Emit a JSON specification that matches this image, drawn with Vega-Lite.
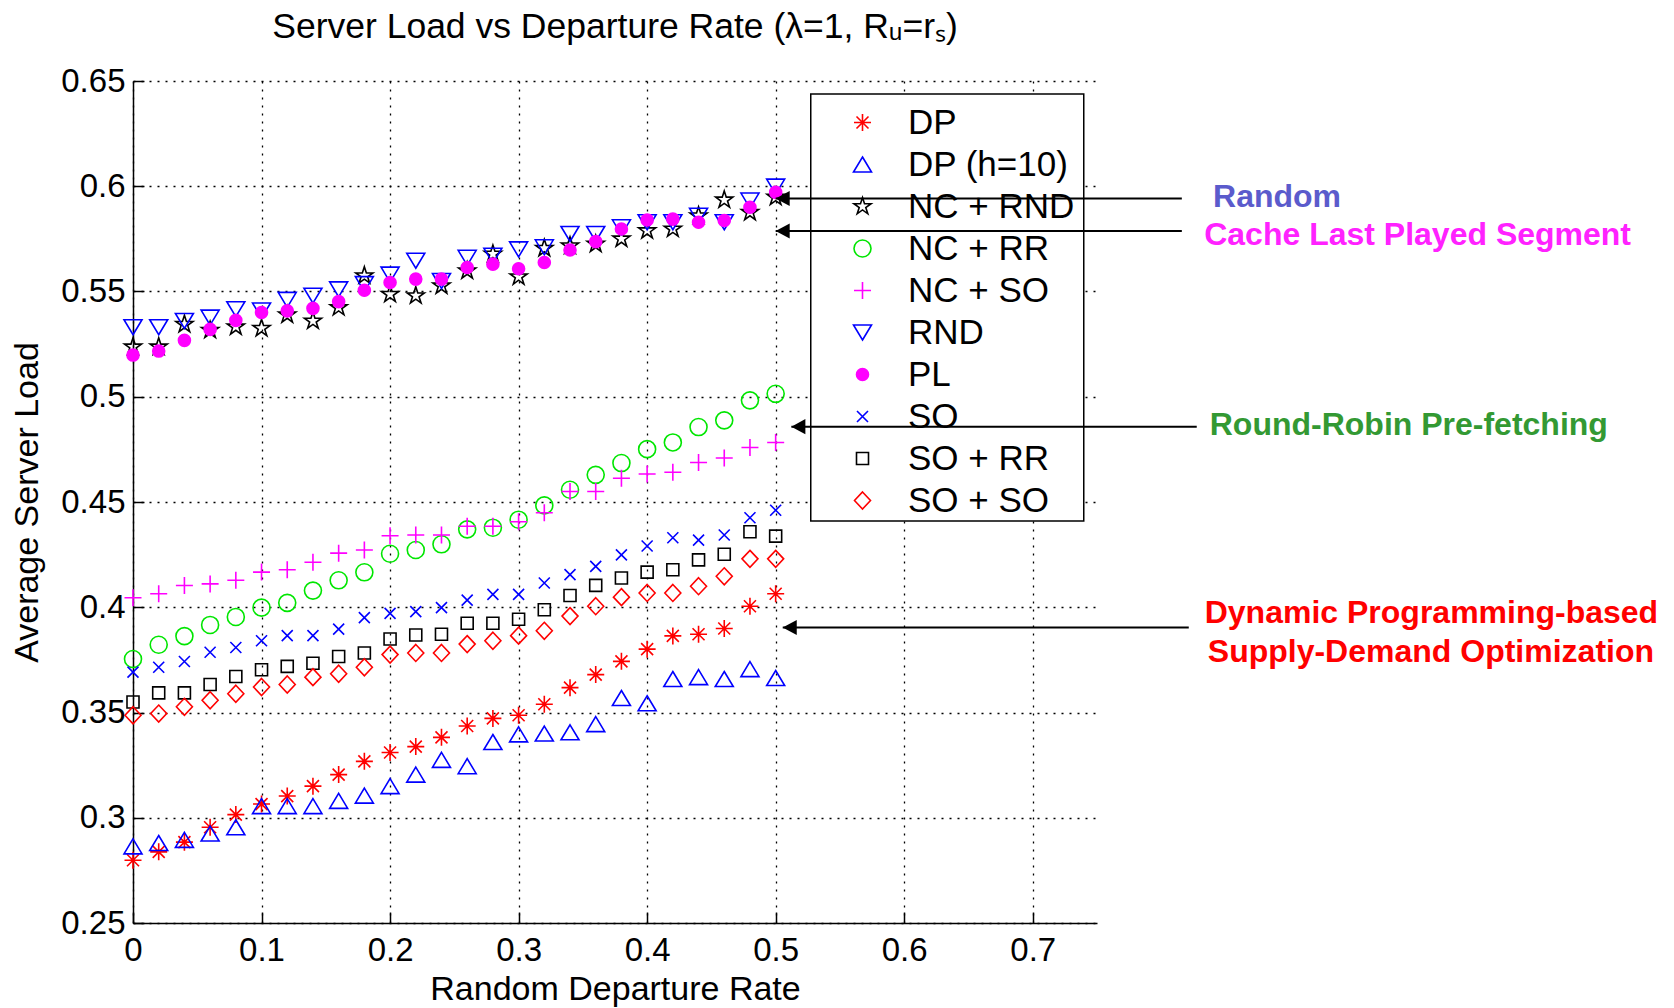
{
  "$schema": "https://vega.github.io/schema/vega-lite/v6.json",
  "width": 964,
  "height": 842,
  "autosize": {"type": "none"},
  "padding": {"left": 133, "top": 81, "right": 577, "bottom": 85},
  "background": "white",
  "title": {
    "text": "Server Load vs Departure Rate (λ=1, Rᵤ=rₛ)",
    "font": "Liberation Sans",
    "fontSize": 35.5,
    "fontWeight": "normal",
    "color": "black",
    "anchor": "middle",
    "frame": "group",
    "offset": 20
  },
  "datasets": {
    "series": [
      {"s":"DP","x":0,"y":0.2798},{"s":"DP","x":0.02,"y":0.2838},{"s":"DP","x":0.04,"y":0.2884},{"s":"DP","x":0.06,"y":0.2955},{"s":"DP","x":0.08,"y":0.3015},{"s":"DP","x":0.1,"y":0.3065},{"s":"DP","x":0.12,"y":0.3103},{"s":"DP","x":0.14,"y":0.315},{"s":"DP","x":0.16,"y":0.3205},{"s":"DP","x":0.18,"y":0.3268},{"s":"DP","x":0.2,"y":0.331},{"s":"DP","x":0.22,"y":0.3338},{"s":"DP","x":0.24,"y":0.3382},{"s":"DP","x":0.26,"y":0.3436},{"s":"DP","x":0.28,"y":0.3472},{"s":"DP","x":0.3,"y":0.3487},{"s":"DP","x":0.32,"y":0.3539},{"s":"DP","x":0.34,"y":0.3618},{"s":"DP","x":0.36,"y":0.368},{"s":"DP","x":0.38,"y":0.3743},{"s":"DP","x":0.4,"y":0.3801},{"s":"DP","x":0.42,"y":0.3864},{"s":"DP","x":0.44,"y":0.3872},{"s":"DP","x":0.46,"y":0.3899},{"s":"DP","x":0.48,"y":0.4005},{"s":"DP","x":0.5,"y":0.4064},
      {"s":"DP (h=10)","x":0,"y":0.2864},{"s":"DP (h=10)","x":0.02,"y":0.288},{"s":"DP (h=10)","x":0.04,"y":0.2895},{"s":"DP (h=10)","x":0.06,"y":0.2925},{"s":"DP (h=10)","x":0.08,"y":0.2955},{"s":"DP (h=10)","x":0.1,"y":0.3055},{"s":"DP (h=10)","x":0.12,"y":0.3055},{"s":"DP (h=10)","x":0.14,"y":0.3055},{"s":"DP (h=10)","x":0.16,"y":0.308},{"s":"DP (h=10)","x":0.18,"y":0.3105},{"s":"DP (h=10)","x":0.2,"y":0.315},{"s":"DP (h=10)","x":0.22,"y":0.3205},{"s":"DP (h=10)","x":0.24,"y":0.3275},{"s":"DP (h=10)","x":0.26,"y":0.3245},{"s":"DP (h=10)","x":0.28,"y":0.336},{"s":"DP (h=10)","x":0.3,"y":0.3396},{"s":"DP (h=10)","x":0.32,"y":0.34},{"s":"DP (h=10)","x":0.34,"y":0.3406},{"s":"DP (h=10)","x":0.36,"y":0.3445},{"s":"DP (h=10)","x":0.38,"y":0.3569},{"s":"DP (h=10)","x":0.4,"y":0.3544},{"s":"DP (h=10)","x":0.42,"y":0.3659},{"s":"DP (h=10)","x":0.44,"y":0.3668},{"s":"DP (h=10)","x":0.46,"y":0.3659},{"s":"DP (h=10)","x":0.48,"y":0.3706},{"s":"DP (h=10)","x":0.5,"y":0.3664},
      {"s":"NC + RND","x":0,"y":0.5237},{"s":"NC + RND","x":0.02,"y":0.5237},{"s":"NC + RND","x":0.04,"y":0.5344},{"s":"NC + RND","x":0.06,"y":0.5316},{"s":"NC + RND","x":0.08,"y":0.5332},{"s":"NC + RND","x":0.1,"y":0.5325},{"s":"NC + RND","x":0.12,"y":0.5389},{"s":"NC + RND","x":0.14,"y":0.536},{"s":"NC + RND","x":0.16,"y":0.5424},{"s":"NC + RND","x":0.18,"y":0.5575},{"s":"NC + RND","x":0.2,"y":0.5487},{"s":"NC + RND","x":0.22,"y":0.548},{"s":"NC + RND","x":0.24,"y":0.5527},{"s":"NC + RND","x":0.26,"y":0.5598},{"s":"NC + RND","x":0.28,"y":0.5678},{"s":"NC + RND","x":0.3,"y":0.557},{"s":"NC + RND","x":0.32,"y":0.5705},{"s":"NC + RND","x":0.34,"y":0.5717},{"s":"NC + RND","x":0.36,"y":0.5725},{"s":"NC + RND","x":0.38,"y":0.575},{"s":"NC + RND","x":0.4,"y":0.5789},{"s":"NC + RND","x":0.42,"y":0.5797},{"s":"NC + RND","x":0.44,"y":0.586},{"s":"NC + RND","x":0.46,"y":0.5935},{"s":"NC + RND","x":0.48,"y":0.5876},{"s":"NC + RND","x":0.5,"y":0.5948},
      {"s":"NC + RR","x":0,"y":0.3754},{"s":"NC + RR","x":0.02,"y":0.3822},{"s":"NC + RR","x":0.04,"y":0.3863},{"s":"NC + RR","x":0.06,"y":0.3916},{"s":"NC + RR","x":0.08,"y":0.3954},{"s":"NC + RR","x":0.1,"y":0.3998},{"s":"NC + RR","x":0.12,"y":0.4021},{"s":"NC + RR","x":0.14,"y":0.4079},{"s":"NC + RR","x":0.16,"y":0.4128},{"s":"NC + RR","x":0.18,"y":0.4166},{"s":"NC + RR","x":0.2,"y":0.4254},{"s":"NC + RR","x":0.22,"y":0.4272},{"s":"NC + RR","x":0.24,"y":0.4299},{"s":"NC + RR","x":0.26,"y":0.437},{"s":"NC + RR","x":0.28,"y":0.4378},{"s":"NC + RR","x":0.3,"y":0.4416},{"s":"NC + RR","x":0.32,"y":0.4484},{"s":"NC + RR","x":0.34,"y":0.4558},{"s":"NC + RR","x":0.36,"y":0.4629},{"s":"NC + RR","x":0.38,"y":0.4685},{"s":"NC + RR","x":0.4,"y":0.4751},{"s":"NC + RR","x":0.42,"y":0.4783},{"s":"NC + RR","x":0.44,"y":0.4856},{"s":"NC + RR","x":0.46,"y":0.4888},{"s":"NC + RR","x":0.48,"y":0.4983},{"s":"NC + RR","x":0.5,"y":0.5014},
      {"s":"NC + SO","x":0,"y":0.4045},{"s":"NC + SO","x":0.02,"y":0.4064},{"s":"NC + SO","x":0.04,"y":0.4103},{"s":"NC + SO","x":0.06,"y":0.4111},{"s":"NC + SO","x":0.08,"y":0.4128},{"s":"NC + SO","x":0.1,"y":0.4167},{"s":"NC + SO","x":0.12,"y":0.4178},{"s":"NC + SO","x":0.14,"y":0.4214},{"s":"NC + SO","x":0.16,"y":0.4257},{"s":"NC + SO","x":0.18,"y":0.4272},{"s":"NC + SO","x":0.2,"y":0.434},{"s":"NC + SO","x":0.22,"y":0.4343},{"s":"NC + SO","x":0.24,"y":0.4343},{"s":"NC + SO","x":0.26,"y":0.4385},{"s":"NC + SO","x":0.28,"y":0.4385},{"s":"NC + SO","x":0.3,"y":0.4406},{"s":"NC + SO","x":0.32,"y":0.4449},{"s":"NC + SO","x":0.34,"y":0.455},{"s":"NC + SO","x":0.36,"y":0.455},{"s":"NC + SO","x":0.38,"y":0.4613},{"s":"NC + SO","x":0.4,"y":0.4633},{"s":"NC + SO","x":0.42,"y":0.4641},{"s":"NC + SO","x":0.44,"y":0.4688},{"s":"NC + SO","x":0.46,"y":0.4709},{"s":"NC + SO","x":0.48,"y":0.4759},{"s":"NC + SO","x":0.5,"y":0.4783},
      {"s":"RND","x":0,"y":0.533},{"s":"RND","x":0.02,"y":0.533},{"s":"RND","x":0.04,"y":0.536},{"s":"RND","x":0.06,"y":0.5376},{"s":"RND","x":0.08,"y":0.5416},{"s":"RND","x":0.1,"y":0.541},{"s":"RND","x":0.12,"y":0.546},{"s":"RND","x":0.14,"y":0.548},{"s":"RND","x":0.16,"y":0.551},{"s":"RND","x":0.18,"y":0.5535},{"s":"RND","x":0.2,"y":0.558},{"s":"RND","x":0.22,"y":0.5646},{"s":"RND","x":0.24,"y":0.555},{"s":"RND","x":0.26,"y":0.566},{"s":"RND","x":0.28,"y":0.567},{"s":"RND","x":0.3,"y":0.57},{"s":"RND","x":0.32,"y":0.571},{"s":"RND","x":0.34,"y":0.5773},{"s":"RND","x":0.36,"y":0.5773},{"s":"RND","x":0.38,"y":0.5805},{"s":"RND","x":0.4,"y":0.5829},{"s":"RND","x":0.42,"y":0.5829},{"s":"RND","x":0.44,"y":0.586},{"s":"RND","x":0.46,"y":0.5829},{"s":"RND","x":0.48,"y":0.5932},{"s":"RND","x":0.5,"y":0.5998},
      {"s":"PL","x":0,"y":0.5198},{"s":"PL","x":0.02,"y":0.5217},{"s":"PL","x":0.04,"y":0.5268},{"s":"PL","x":0.06,"y":0.532},{"s":"PL","x":0.08,"y":0.5363},{"s":"PL","x":0.1,"y":0.54},{"s":"PL","x":0.12,"y":0.5408},{"s":"PL","x":0.14,"y":0.542},{"s":"PL","x":0.16,"y":0.5452},{"s":"PL","x":0.18,"y":0.5506},{"s":"PL","x":0.2,"y":0.5543},{"s":"PL","x":0.22,"y":0.5559},{"s":"PL","x":0.24,"y":0.5559},{"s":"PL","x":0.26,"y":0.5614},{"s":"PL","x":0.28,"y":0.563},{"s":"PL","x":0.3,"y":0.5608},{"s":"PL","x":0.32,"y":0.5638},{"s":"PL","x":0.34,"y":0.5697},{"s":"PL","x":0.36,"y":0.5737},{"s":"PL","x":0.38,"y":0.5797},{"s":"PL","x":0.4,"y":0.584},{"s":"PL","x":0.42,"y":0.5844},{"s":"PL","x":0.44,"y":0.5829},{"s":"PL","x":0.46,"y":0.5837},{"s":"PL","x":0.48,"y":0.59},{"s":"PL","x":0.5,"y":0.5971},
      {"s":"SO","x":0,"y":0.3692},{"s":"SO","x":0.02,"y":0.3715},{"s":"SO","x":0.04,"y":0.3742},{"s":"SO","x":0.06,"y":0.3786},{"s":"SO","x":0.08,"y":0.3809},{"s":"SO","x":0.1,"y":0.3841},{"s":"SO","x":0.12,"y":0.3865},{"s":"SO","x":0.14,"y":0.3865},{"s":"SO","x":0.16,"y":0.3896},{"s":"SO","x":0.18,"y":0.3951},{"s":"SO","x":0.2,"y":0.3971},{"s":"SO","x":0.22,"y":0.3979},{"s":"SO","x":0.24,"y":0.3998},{"s":"SO","x":0.26,"y":0.4034},{"s":"SO","x":0.28,"y":0.4061},{"s":"SO","x":0.3,"y":0.4061},{"s":"SO","x":0.32,"y":0.4115},{"s":"SO","x":0.34,"y":0.4155},{"s":"SO","x":0.36,"y":0.4194},{"s":"SO","x":0.38,"y":0.4249},{"s":"SO","x":0.4,"y":0.4291},{"s":"SO","x":0.42,"y":0.433},{"s":"SO","x":0.44,"y":0.4319},{"s":"SO","x":0.46,"y":0.4343},{"s":"SO","x":0.48,"y":0.4425},{"s":"SO","x":0.5,"y":0.4461},
      {"s":"SO + RR","x":0,"y":0.355},{"s":"SO + RR","x":0.02,"y":0.3593},{"s":"SO + RR","x":0.04,"y":0.3593},{"s":"SO + RR","x":0.06,"y":0.3633},{"s":"SO + RR","x":0.08,"y":0.3671},{"s":"SO + RR","x":0.1,"y":0.3703},{"s":"SO + RR","x":0.12,"y":0.3719},{"s":"SO + RR","x":0.14,"y":0.3734},{"s":"SO + RR","x":0.16,"y":0.3766},{"s":"SO + RR","x":0.18,"y":0.3783},{"s":"SO + RR","x":0.2,"y":0.3849},{"s":"SO + RR","x":0.22,"y":0.3868},{"s":"SO + RR","x":0.24,"y":0.3872},{"s":"SO + RR","x":0.26,"y":0.3924},{"s":"SO + RR","x":0.28,"y":0.3924},{"s":"SO + RR","x":0.3,"y":0.3943},{"s":"SO + RR","x":0.32,"y":0.3988},{"s":"SO + RR","x":0.34,"y":0.4056},{"s":"SO + RR","x":0.36,"y":0.4104},{"s":"SO + RR","x":0.38,"y":0.4139},{"s":"SO + RR","x":0.4,"y":0.4167},{"s":"SO + RR","x":0.42,"y":0.4178},{"s":"SO + RR","x":0.44,"y":0.4225},{"s":"SO + RR","x":0.46,"y":0.4252},{"s":"SO + RR","x":0.48,"y":0.4359},{"s":"SO + RR","x":0.5,"y":0.4338},
      {"s":"SO + SO","x":0,"y":0.3487},{"s":"SO + SO","x":0.02,"y":0.3495},{"s":"SO + SO","x":0.04,"y":0.3527},{"s":"SO + SO","x":0.06,"y":0.3558},{"s":"SO + SO","x":0.08,"y":0.3589},{"s":"SO + SO","x":0.1,"y":0.3621},{"s":"SO + SO","x":0.12,"y":0.3633},{"s":"SO + SO","x":0.14,"y":0.3668},{"s":"SO + SO","x":0.16,"y":0.3684},{"s":"SO + SO","x":0.18,"y":0.3715},{"s":"SO + SO","x":0.2,"y":0.3775},{"s":"SO + SO","x":0.22,"y":0.3783},{"s":"SO + SO","x":0.24,"y":0.3783},{"s":"SO + SO","x":0.26,"y":0.3825},{"s":"SO + SO","x":0.28,"y":0.3841},{"s":"SO + SO","x":0.3,"y":0.3865},{"s":"SO + SO","x":0.32,"y":0.3888},{"s":"SO + SO","x":0.34,"y":0.3958},{"s":"SO + SO","x":0.36,"y":0.4005},{"s":"SO + SO","x":0.38,"y":0.4048},{"s":"SO + SO","x":0.4,"y":0.4068},{"s":"SO + SO","x":0.42,"y":0.4068},{"s":"SO + SO","x":0.44,"y":0.41},{"s":"SO + SO","x":0.46,"y":0.4147},{"s":"SO + SO","x":0.48,"y":0.423},{"s":"SO + SO","x":0.5,"y":0.423}
    ],
    "arrows": [
      {"name":"Random","tip":0.5,"end":0.816,"y":0.5942},
      {"name":"Cache","tip":0.5,"end":0.816,"y":0.5787},
      {"name":"RR","tip":0.5122,"end":0.8276,"y":0.4858},
      {"name":"DP","tip":0.5055,"end":0.8214,"y":0.3904}
    ],
    "notes": [
      {"label":"Random","group":"Random","x":0.8403,"y":0.5949},
      {"label":"Cache Last Played Segment","group":"Cache","x":0.8334,"y":0.5768},
      {"label":"Round-Robin Pre-fetching","group":"RR","x":0.8377,"y":0.4866},
      {"label":"Dynamic Programming-based","group":"DP","x":0.8338,"y":0.3973},
      {"label":"Supply-Demand Optimization","group":"DP","x":0.8362,"y":0.3789}
    ]
  },
  "layer": [
    {
      "data": {"values": [{}]},
      "mark": {"type": "rect", "fill": "white", "stroke": "black", "strokeWidth": 1.5},
      "encoding": {
        "x": {"datum": 0.5273, "type": "quantitative", "scale": {"domain": [0, 0.75], "nice": false, "zero": false}},
        "x2": {"datum": 0.7397},
        "y": {"datum": 0.6438, "type": "quantitative", "scale": {"domain": [0.25, 0.65], "nice": false, "zero": false}},
        "y2": {"datum": 0.441}
      }
    },
    {
      "data": {"name": "series"},
      "mark": {"type": "point", "filled": false, "strokeWidth": 1.6, "size": 400, "opacity": 1},
      "encoding": {
        "x": {
          "field": "x", "type": "quantitative",
          "scale": {"domain": [0, 0.75], "nice": false, "zero": false},
          "axis": {
            "title": "Random Departure Rate",
            "values": [0, 0.1, 0.2, 0.3, 0.4, 0.5, 0.6, 0.7],
            "format": "~g",
            "labelPadding": 22,
            "titlePadding": 5
          }
        },
        "y": {
          "field": "y", "type": "quantitative",
          "scale": {"domain": [0.25, 0.65], "nice": false, "zero": false},
          "axis": {
            "title": "Average Server Load",
            "values": [0.25, 0.3, 0.35, 0.4, 0.45, 0.5, 0.55, 0.6, 0.65],
            "format": "~g",
            "labelPadding": 19,
            "titlePadding": 16
          }
        },
        "stroke": {
          "field": "s", "type": "nominal",
          "scale": {
            "domain": ["DP", "DP (h=10)", "NC + RND", "NC + RR", "NC + SO", "RND", "PL", "SO", "SO + RR", "SO + SO"],
            "range": ["#ff0000", "#0000ff", "#000000", "#00e600", "#ff00ff", "#0000ff", "#ff00ff", "#0000ff", "#000000", "#ff0000"]
          },
          "legend": {
            "title": null,
            "orient": "none",
            "legendX": 678,
            "legendY": 14,
            "padding": 10,
            "symbolOffset": 24,
            "labelOffset": 28,
            "rowPadding": 6,
            "labelFontSize": 35,
            "labelFont": "Liberation Sans",
            "labelColor": "black",
            "symbolSize": 400,
            "symbolStrokeWidth": 1.6,
            "strokeColor": null,
            "fillColor": null,
            "labelLimit": 400
          }
        },
        "fill": {
          "field": "s", "type": "nominal",
          "scale": {
            "domain": ["DP", "DP (h=10)", "NC + RND", "NC + RR", "NC + SO", "RND", "PL", "SO", "SO + RR", "SO + SO"],
            "range": ["transparent", "transparent", "transparent", "transparent", "transparent", "transparent", "#ff00ff", "transparent", "transparent", "transparent"]
          }
        },
        "shape": {
          "field": "s", "type": "nominal",
          "scale": {
            "domain": ["DP", "DP (h=10)", "NC + RND", "NC + RR", "NC + SO", "RND", "PL", "SO", "SO + RR", "SO + SO"],
            "range": [
              "M-0.85,0L0.85,0M0,-0.85L0,0.85M-0.6,-0.6L0.6,0.6M-0.6,0.6L0.6,-0.6",
              "M0,-0.75L0.9,0.75L-0.9,0.75Z",
              "M0,-0.9L0.202,-0.278L0.856,-0.278L0.327,0.106L0.529,0.728L0,0.344L-0.529,0.728L-0.327,0.106L-0.856,-0.278L-0.202,-0.278Z",
              "M-0.85,0A0.85,0.85,0,1,1,0.85,0A0.85,0.85,0,1,1,-0.85,0Z",
              "M-0.85,0L0.85,0M0,-0.85L0,0.85",
              "M0,0.75L0.9,-0.75L-0.9,-0.75Z",
              "M-0.6,0A0.6,0.6,0,1,1,0.6,0A0.6,0.6,0,1,1,-0.6,0Z",
              "M-0.55,-0.55L0.55,0.55M-0.55,0.55L0.55,-0.55",
              "M-0.6,-0.6L0.6,-0.6L0.6,0.6L-0.6,0.6Z",
              "M0,-0.85L0.8,0L0,0.85L-0.8,0Z"
            ]
          }
        }
      }
    },
    {
      "data": {"name": "arrows"},
      "mark": {"type": "rule", "color": "black", "strokeWidth": 2},
      "encoding": {
        "x": {"field": "tip", "type": "quantitative"},
        "x2": {"field": "end"},
        "y": {"field": "y", "type": "quantitative"}
      }
    },
    {
      "data": {"name": "arrows"},
      "mark": {"type": "point", "filled": true, "color": "black", "opacity": 1, "size": 256, "shape": "M0,0L1.75,-0.94L1.75,0.94Z", "strokeWidth": 0},
      "encoding": {
        "x": {"field": "tip", "type": "quantitative"},
        "y": {"field": "y", "type": "quantitative"}
      }
    },
    {
      "data": {"name": "notes"},
      "mark": {"type": "text", "align": "left", "baseline": "middle", "font": "Liberation Sans", "fontSize": 32, "fontWeight": "bold"},
      "encoding": {
        "x": {"field": "x", "type": "quantitative"},
        "y": {"field": "y", "type": "quantitative"},
        "text": {"field": "label"},
        "color": {
          "field": "group", "type": "nominal",
          "scale": {"domain": ["Random", "Cache", "RR", "DP"], "range": ["#5b5bcc", "#ff22ff", "#339933", "#ff0000"]},
          "legend": null
        }
      }
    }
  ],
  "config": {
    "view": {"stroke": null},
    "font": "Liberation Sans",
    "axis": {
      "domainColor": "black",
      "domainWidth": 1.5,
      "tickColor": "black",
      "tickWidth": 1.5,
      "tickSize": -11,
      "grid": true,
      "gridColor": "black",
      "gridDash": [2, 6],
      "gridWidth": 1.3,
      "gridOpacity": 1,
      "labelFont": "Liberation Sans",
      "labelFontSize": 33,
      "labelColor": "black",
      "labelFlush": false,
      "labelOverlap": false,
      "titleFont": "Liberation Sans",
      "titleFontSize": 34,
      "titleFontWeight": "normal",
      "titleColor": "black"
    }
  }
}
